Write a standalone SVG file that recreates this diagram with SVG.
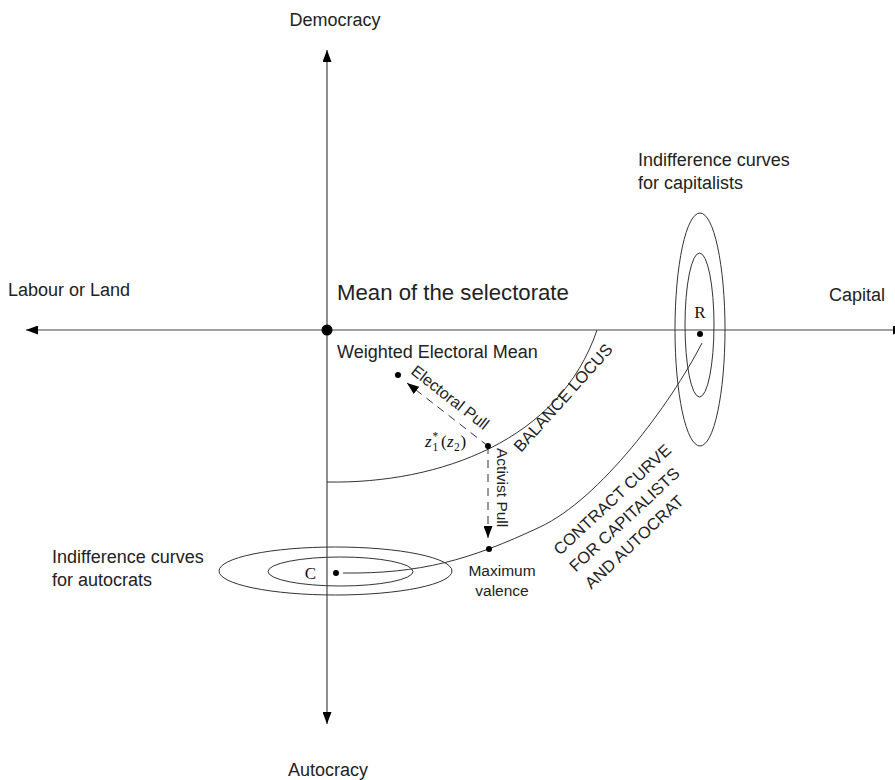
<svg xmlns="http://www.w3.org/2000/svg" width="895" height="780" viewBox="0 0 895 780">
<style>
  .lbl { font-family: "Liberation Sans", Arial, sans-serif; fill: #222; }
  .math { font-family: "Liberation Serif", "DejaVu Serif", serif; fill: #111; }
  .ax { stroke: #444; stroke-width: 1.2; fill: none; }
  .curve { stroke: #333; stroke-width: 1; fill: none; }
  .dash { stroke: #333; stroke-width: 1; fill: none; stroke-dasharray: 8 6; }
  .dot { fill: #000; }
</style>
<defs>
  <marker id="arr" markerUnits="userSpaceOnUse" markerWidth="12" markerHeight="9" refX="12" refY="4.5" orient="auto-start-reverse">
    <path d="M0,0 L12,4.5 L0,9 z" fill="#000"/>
  </marker>
  <marker id="arrs" markerUnits="userSpaceOnUse" markerWidth="12" markerHeight="9" refX="12" refY="4.5" orient="auto">
    <path d="M0,0 L12,4.5 L0,9 z" fill="#000"/>
  </marker>
</defs>
<rect width="895" height="780" fill="#fff"/>

<g id="connectors">
  <line id="x-axis" class="ax" x1="26" y1="330" x2="905" y2="330" marker-start="url(#arr)" marker-end="url(#arr)"/>
  <line id="y-axis" class="ax" x1="327" y1="724" x2="327" y2="50" marker-start="url(#arr)" marker-end="url(#arr)"/>
  <path id="balance-locus" class="curve" d="M327,482 C440,484 560,440 597,330"/>
  <path id="contract-curve" class="curve" d="M343,573 C420,574 470,560 540,527 C600,499 670,405 702,343"/>
  <line id="electoral-pull" class="dash" x1="488" y1="446" x2="407" y2="383" marker-end="url(#arrs)"/>
  <line id="activist-pull" class="dash" x1="488" y1="446" x2="488" y2="538" marker-end="url(#arrs)"/>
</g>

<g id="axis-labels">
  <text class="lbl" x="335" y="26" font-size="18" text-anchor="middle">Democracy</text>
  <text class="lbl" x="328" y="776" font-size="18" text-anchor="middle">Autocracy</text>
  <text class="lbl" x="8" y="296" font-size="18">Labour or Land</text>
  <text class="lbl" x="829" y="301" font-size="18">Capital</text>
</g>

<g id="mean-selectorate">
  <circle class="dot" cx="327" cy="330" r="5.5"/>
  <text class="lbl" x="337" y="300" font-size="22.2">Mean of the selectorate</text>
</g>

<g id="weighted-electoral-mean">
  <circle class="dot" cx="398" cy="375" r="3"/>
  <text class="lbl" x="337" y="358" font-size="18">Weighted Electoral Mean</text>
</g>

<g id="electoral-pull-label">
  <text class="lbl" font-size="16" transform="translate(410,373) rotate(38)">Electoral Pull</text>
</g>

<g id="z-point">
  <circle class="dot" cx="488" cy="446" r="3"/>
  <text class="math" x="425" y="447" font-size="17" font-style="italic">z</text>
  <text class="math" x="432.5" y="451" font-size="11.5">1</text>
  <text class="math" x="432.5" y="440" font-size="11.5">*</text>
  <text class="math" x="441" y="447" font-size="17">(</text>
  <text class="math" x="447" y="447" font-size="17" font-style="italic">z</text>
  <text class="math" x="454" y="451" font-size="11.5">2</text>
  <text class="math" x="460.5" y="447" font-size="17">)</text>
</g>

<g id="activist-pull-label">
  <text class="lbl" font-size="15.5" transform="translate(497,448) rotate(90)">Activist Pull</text>
</g>

<g id="balance-locus-label">
  <text class="lbl" font-size="16.5" transform="translate(521,453) rotate(-48)">BALANCE LOCUS</text>
</g>

<g id="contract-curve-label">
  <text class="lbl" font-size="16.5" transform="translate(560,556) rotate(-43)"><tspan x="0" y="0">CONTRACT CURVE</tspan><tspan x="0" y="23">FOR CAPITALISTS</tspan><tspan x="0" y="46">AND AUTOCRAT</tspan></text>
</g>

<g id="maximum-valence">
  <circle class="dot" cx="489" cy="549" r="3"/>
  <text class="lbl" x="502" y="576" font-size="15.5" text-anchor="middle">Maximum</text>
  <text class="lbl" x="502" y="596" font-size="15.5" text-anchor="middle">valence</text>
</g>

<g id="capitalists">
  <ellipse class="curve" cx="700" cy="329.5" rx="25" ry="116.5"/>
  <ellipse class="curve" cx="699.5" cy="325" rx="14.5" ry="72"/>
  <circle class="dot" cx="700" cy="334" r="3"/>
  <text class="math" x="700" y="318" font-size="17" text-anchor="middle">R</text>
  <text class="lbl" x="638" y="166" font-size="18">Indifference curves</text>
  <text class="lbl" x="638" y="189" font-size="18">for capitalists</text>
</g>

<g id="autocrats">
  <ellipse class="curve" cx="335.5" cy="571" rx="116.5" ry="24"/>
  <ellipse class="curve" cx="340.5" cy="571.5" rx="72.5" ry="14.5"/>
  <circle class="dot" cx="336" cy="573" r="3"/>
  <text class="math" x="310.5" y="579" font-size="17" text-anchor="middle">C</text>
  <text class="lbl" x="52" y="563" font-size="18">Indifference curves</text>
  <text class="lbl" x="52" y="586" font-size="18">for autocrats</text>
</g>
</svg>
